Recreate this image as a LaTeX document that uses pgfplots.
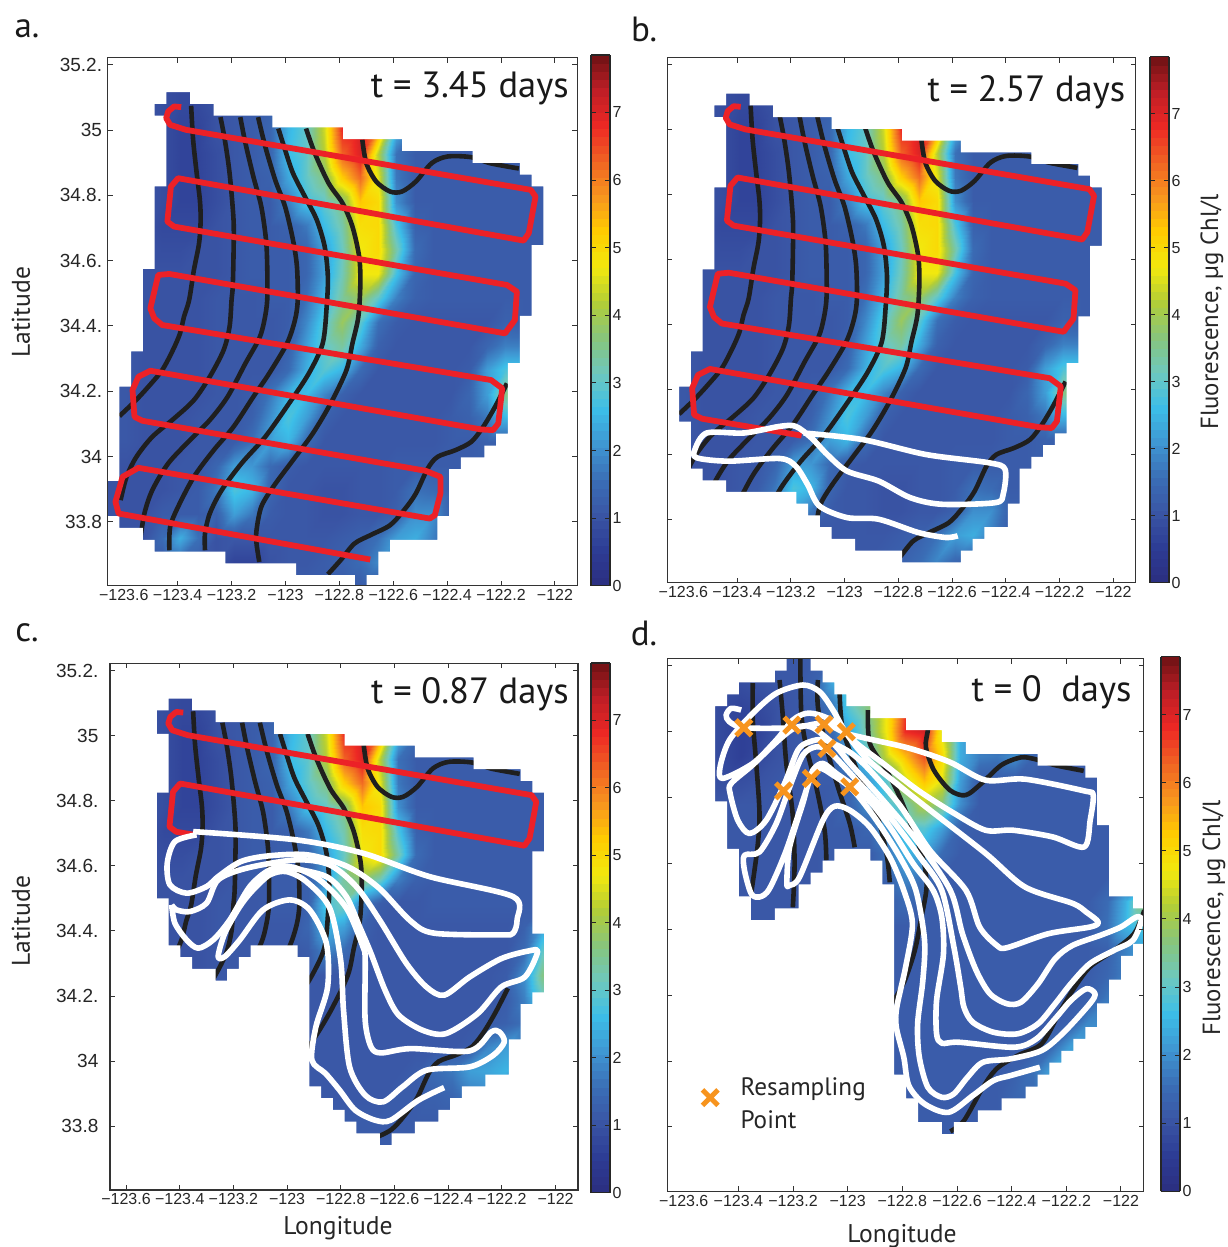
\documentclass[border=0pt]{standalone}
\usepackage{fontspec}
\usepackage{pgfplots}
\usepackage{pgfplotstable}
\pgfplotsset{compat=1.18}
\setmainfont{Liberation Sans}
\newfontfamily\myr{PT Sans}
\tikzset{ttl/.style={anchor=east,inner sep=0pt,font=\myr\fontsize{36.5}{36.5}\selectfont,text=black!90}}

\pgfplotsset{
  colormap={fluo}{rgb255=(43,46,128) rgb255=(45,60,148) rgb255=(58,85,165) rgb255=(58,110,182) rgb255=(63,150,210) rgb255=(60,190,232) rgb255=(110,200,190) rgb255=(135,197,125) rgb255=(178,205,55) rgb255=(242,232,14) rgb255=(255,205,0) rgb255=(248,150,30) rgb255=(240,100,35) rgb255=(237,40,36) rgb255=(190,30,38) rgb255=(110,18,20)},
  /pgfplots/table/za/.style={x expr={-123.4+(\thisrow{X}-449)/680},y expr={35-(\thisrow{Y}-391)/978}},
  /pgfplots/table/rc/.style={x expr={-123.4+(\thisrow{X}-179.8)/269},y expr={35-(\thisrow{Y}-735.7)/325.5}},
  /pgfplots/table/rd/.style={x expr={-123.4+(\thisrow{X}-738.9)/272.7},y expr={35-(\thisrow{Y}-731.7)/328.7}},
  /pgfplots/table/mask/.style={x expr={-123.66+0.0437*\thisrow{i}},y expr={#1-0.0361*\thisrow{j}}},
  /pgfplots/table/cellgrid/.style={meta=v,x expr={-123.66+0.067*mod(\coordindex,27)},y expr={35.222-0.0736*floor((\coordindex+0.5)/27)}},
  field/.style={surf,shader=interp,mesh/cols=27,mesh/ordering=x varies,point meta=explicit,forget plot},
  whitemask/.style={fill=white,draw=none,even odd rule,no markers,forget plot},
  blk/.style={smooth,tension=0.5,draw=black!88,line width=4.6pt,no markers,forget plot},
  redl/.style={color={rgb,255:red,236;green,33;blue,39},line width=5.8pt,line join=round,no markers,forget plot},
  whl/.style={smooth,tension=0.5,draw=white,line width=5.6pt,line join=round,no markers,forget plot},
  panel/.style={scale only axis,xmin=-123.66,xmax=-121.917,ymin=33.604,ymax=35.222,axis on top,
    tick align=inside,major tick length=5pt,axis line style={draw=black!80,line width=1.2pt},
    every tick/.style={draw=black!80,line width=0.9pt},
    point meta min=0,point meta max=7.85,colormap name=fluo,
    xticklabel style={font=\fontsize{16}{16}\selectfont,text=black!85},
    yticklabel style={font=\fontsize{19}{19}\selectfont,text=black!85,xshift=-2pt},
    scaled ticks=false,
    ytick={33.8,34,34.2,34.4,34.6,34.8,35,35.2}},
  xa/.style={xtick={-123.4,-123.2,-123,-122.8,-122.6,-122.4,-122.2,-122},
    xticklabels={−123.4,−123.2,−123,−122.8,−122.6,−122.4,−122.2,−122},
    extra x ticks={-123.6},extra x tick labels={−123.6},
    extra tick style={major tick length=0pt}},
  cbar/.style n args={3}{colorbar,colorbar sampled,colorbar style={samples=66,at={(#1,#2)},anchor=south west,scale only axis,width=19pt,height=#3,
     ytick={0,1,2,3,4,5,6,7},yticklabels={0,1,2,3,4,5,6,7},yticklabel pos=right,ytick pos=both,tick align=inside,major tick length=5pt,
     axis line style={draw=black!85,line width=1.2pt},every tick/.style={draw=black!85,line width=0.8pt},
     yticklabel style={font=\fontsize{16}{16}\selectfont,text=black!85,xshift=-1pt}}},
}

\pgfplotstableread[row sep=crcr]{v\\
1\\1\\1\\.9\\.8\\.8\\1\\1.1\\1.2\\ 1.3\\2.4\\3\\4.3\\6.8\\7\\5.5\\2.5\\1.4\\ 1.2\\1.2\\1.2\\1.2\\1.2\\1.2\\1.2\\1.2\\1.2\\
1\\1\\1\\.9\\.8\\.8\\1\\1.1\\1.2\\ 1.3\\2.4\\3\\4.3\\6.8\\7\\5.5\\2.5\\1.4\\ 1.2\\1.2\\1.2\\1.2\\1.2\\1.2\\1.2\\1.2\\1.2\\
1\\1\\1\\.9\\.8\\.8\\1\\1.1\\1.2\\ 1.3\\2.4\\3\\4.3\\6.8\\7\\5.5\\2.5\\1.4\\ 1.2\\1.2\\1.2\\1.2\\1.2\\1.2\\1.2\\1.2\\1.2\\
1\\1\\1\\.9\\.7\\.7\\1\\1.1\\1.2\\ 1.4\\2.5\\3\\4.4\\6.8\\7.1\\5.8\\2.5\\1.5\\ 1.3\\1.2\\1.2\\1.2\\1.2\\1.2\\1.2\\1.2\\1.2\\
1\\1\\1\\.9\\.7\\.7\\.9\\1.1\\1.2\\ 1.4\\2.6\\3\\4.2\\6.3\\7\\4.2\\1.6\\1.2\\ 1.2\\1.2\\1.2\\1.2\\1.2\\1.2\\1.2\\1.2\\1.2\\
1\\1\\1\\.9\\.7\\.7\\.9\\1.1\\1.2\\ 1.3\\2.3\\3\\3.6\\5.2\\6.2\\4.6\\1.7\\1.2\\ 1.2\\1.2\\1.2\\1.2\\1.2\\1.2\\1.2\\1.2\\1.2\\
1\\1\\1\\.9\\.7\\.7\\.9\\1.1\\1.2\\ 1.2\\1.8\\2.7\\3\\3.6\\5.3\\5\\2\\1.2\\ 1.2\\1.2\\1.2\\1.2\\1.2\\1.2\\1.2\\1.2\\1.2\\
1\\1\\1\\.8\\.8\\.8\\1\\1.1\\1.2\\ 1.2\\1.3\\1.7\\2.6\\3.3\\4.9\\5\\2.8\\1.3\\ 1.2\\1.2\\1.2\\1.2\\1.2\\1.2\\1.2\\1.2\\1.2\\
1\\1\\1\\.9\\.9\\1\\1\\1.1\\1.2\\ 1.2\\1.2\\1.4\\2.2\\3.1\\4.7\\5\\3.3\\1.5\\ 1.2\\1.2\\1.2\\1.2\\1.2\\1.2\\1.2\\1.2\\1.2\\
1.1\\1.1\\1\\1\\1\\1\\1\\1.1\\1.2\\ 1.2\\1.2\\1.4\\2.2\\3.2\\4.7\\4.7\\2.7\\1.4\\ 1.2\\1.2\\1.2\\1.2\\1.2\\1.2\\1.2\\1.2\\1.2\\
1.1\\1.1\\1\\1\\1\\1\\1.1\\1.1\\1.1\\ 1.2\\1.2\\1.6\\2.5\\3.4\\3.9\\3\\1.8\\1.3\\ 1.2\\1.2\\1.2\\1.2\\1.2\\1.2\\1.2\\1.2\\1.2\\
1.1\\1.1\\1\\1\\1\\1\\1.1\\1.1\\1.1\\ 1.1\\1.2\\1.9\\2.9\\3.9\\3\\1.6\\1.2\\1.1\\ 1.1\\1.1\\1.1\\1.1\\1.3\\1.2\\1.2\\1.2\\1.2\\
1.1\\1.1\\1\\1\\1\\1\\1.1\\1.1\\1.1\\ 1.1\\1.3\\2.2\\3\\3.4\\2.4\\1.3\\1.1\\1.1\\ 1.1\\1.1\\1.1\\1.4\\1.8\\1.8\\1.2\\1.2\\1.2\\
1.1\\1.1\\1\\1\\1\\1\\1.1\\1.1\\1.1\\ 1.1\\1.5\\2.4\\2.9\\2.5\\1.5\\1.1\\1.1\\1.1\\ 1.1\\1.1\\1.2\\2.2\\2.8\\2.8\\1.2\\1.2\\1.2\\
1.1\\1.1\\1\\1\\1\\1\\1.1\\1.1\\1.2\\ 1.7\\2.5\\2.6\\1.9\\1.3\\1.1\\1.1\\1.1\\1.1\\ 1.1\\1.1\\1.4\\2.2\\3.6\\3.6\\1.2\\1.2\\1.2\\
1.1\\1.1\\1\\1\\1\\1.1\\1.1\\1.1\\1.3\\ 2\\2.8\\2.2\\1.3\\1.1\\1.1\\1.1\\1.1\\1.1\\ 1.1\\1.2\\1.3\\1.7\\2.5\\2.5\\1.2\\1.2\\1.2\\
1.1\\1.1\\1\\1\\1\\1.1\\1.1\\1.2\\1.6\\ 2.2\\2.5\\1.5\\1.1\\1.1\\1.1\\1.1\\1.1\\1.1\\ 1.1\\1.2\\1.2\\1.3\\1.3\\1.2\\1.2\\1.2\\1.2\\
1\\1\\1\\1\\1.1\\1.1\\1.4\\2.2\\2.1\\ 1.5\\1.2\\1.1\\1.1\\1.1\\1.1\\1.1\\1.2\\1.2\\ 1.2\\1.2\\1.2\\1.2\\1.2\\1.2\\1.2\\1.2\\1.2\\
1\\1\\1\\1\\1.1\\1.2\\1.7\\2.8\\2.5\\ 1.4\\1.1\\1.1\\1\\1\\1.1\\1.1\\1.2\\1.6\\ 1.5\\1.2\\1.2\\1.2\\1.2\\1.2\\1.2\\1.2\\1.2\\
1\\1\\1\\1.2\\1.2\\1.2\\1.3\\2.2\\1.7\\ 1.2\\1.1\\1.1\\1\\1\\1.1\\1.1\\1.3\\2\\ 2\\1.3\\1.2\\1.2\\1.2\\1.2\\1.2\\1.2\\1.2\\
1\\1\\1\\1.5\\2.4\\1.6\\1\\1.1\\1.1\\ 1.1\\1.1\\1.1\\1.1\\1.2\\1.3\\1.6\\2.2\\2.4\\ 1.8\\1.2\\1.2\\1.2\\1.2\\1.2\\1.2\\1.2\\1.2\\
1\\1\\1\\1.1\\1.4\\1.2\\1\\.7\\.7\\ 1\\1.1\\1.1\\1.2\\1.3\\1.5\\1.9\\1.5\\1.3\\ 1.2\\1.2\\1.2\\1.2\\1.2\\1.2\\1.2\\1.2\\1.2\\
1.2\\1.2\\1.2\\1.2\\1.2\\1.2\\1.2\\1.2\\1.2\\ 1.2\\1.2\\1.2\\1.2\\1.2\\1.2\\1.2\\1.2\\1.2\\ 1.2\\1.2\\1.2\\1.2\\1.2\\1.2\\1.2\\1.2\\1.2\\
}\fieldA

\pgfplotstableread[row sep=crcr]{v\\
1\\1\\1\\.9\\.8\\.8\\1\\1.1\\1.2\\ 1.3\\2.4\\3\\4.3\\6.8\\7\\5.5\\2.5\\1.4\\ 1.2\\1.2\\1.2\\1.2\\1.2\\1.2\\1.2\\1.2\\1.2\\
1\\1\\1\\.9\\.8\\.8\\1\\1.1\\1.2\\ 1.3\\2.4\\3\\4.3\\6.8\\7\\5.5\\2.5\\1.4\\ 1.2\\1.2\\1.2\\1.2\\1.2\\1.2\\1.2\\1.2\\1.2\\
1\\1\\1\\.9\\.8\\.8\\1\\1.1\\1.2\\ 1.3\\2.4\\3\\4.3\\6.8\\7\\5.5\\2.5\\1.4\\ 1.2\\1.2\\1.2\\1.2\\1.2\\1.2\\1.2\\1.2\\1.2\\
1\\1\\1\\.9\\.7\\.7\\1\\1.1\\1.2\\ 1.4\\2.5\\3\\4.4\\6.8\\7.1\\5.8\\2.5\\1.5\\ 1.3\\1.2\\1.2\\1.2\\1.2\\1.2\\1.2\\1.2\\1.2\\
1\\1\\1\\.9\\.7\\.7\\.9\\1.1\\1.2\\ 1.4\\2.6\\3\\4.2\\6.3\\7\\4.2\\1.6\\1.2\\ 1.2\\1.2\\1.2\\1.2\\1.2\\1.2\\1.2\\1.2\\1.2\\
1\\1\\1\\.9\\.7\\.7\\.9\\1.1\\1.2\\ 1.3\\2.3\\3\\3.6\\5.2\\6.2\\4.6\\1.7\\1.2\\ 1.2\\1.2\\1.2\\1.2\\1.2\\1.2\\1.2\\1.2\\1.2\\
1\\1\\1\\.9\\.7\\.7\\.9\\1.1\\1.2\\ 1.2\\1.8\\2.7\\3\\3.6\\5.3\\5\\2\\1.2\\ 1.2\\1.2\\1.2\\1.2\\1.2\\1.2\\1.2\\1.2\\1.2\\
1\\1\\1\\.8\\.8\\.8\\1\\1.1\\1.2\\ 1.2\\1.3\\1.7\\2.6\\3.3\\4.9\\5\\2.8\\1.3\\ 1.2\\1.2\\1.2\\1.2\\1.2\\1.2\\1.2\\1.2\\1.2\\
1\\1\\1\\.9\\.9\\1\\1\\1.1\\1.2\\ 1.2\\1.2\\1.4\\2.2\\3.1\\4.7\\5\\3.3\\1.5\\ 1.2\\1.2\\1.2\\1.2\\1.2\\1.2\\1.2\\1.2\\1.2\\
1.1\\1.1\\1\\1\\1\\1\\1\\1.1\\1.2\\ 1.2\\1.2\\1.3\\2.2\\3.4\\3.8\\3.2\\1.8\\1.3\\ 1.2\\1.2\\1.2\\1.2\\1.2\\1.2\\1.2\\1.2\\1.2\\
1.1\\1.1\\1\\1\\1\\1\\1.1\\1.1\\1.1\\ 1.2\\1.2\\1.3\\2.8\\3.2\\1.8\\1.2\\1.1\\1.1\\ 1.2\\1.2\\1.2\\1.2\\1.2\\1.2\\1.2\\1.2\\1.2\\
1.1\\1.1\\1\\1\\1\\1\\1.1\\1.1\\1.1\\ 1.1\\1.1\\1.4\\2.5\\2.2\\1.3\\1.1\\1.1\\1.1\\ 1.1\\1.1\\1.1\\1.1\\1.1\\1.3\\2.2\\2.2\\2.2\\
1.1\\1.1\\1\\1\\1\\1\\1.1\\1.1\\1.1\\ 1.1\\1.1\\1.2\\1.9\\1.5\\1.2\\1.1\\1.1\\1.1\\ 1.1\\1.1\\1.1\\1.1\\1.1\\1.5\\3\\3\\3\\
1.1\\1.1\\1\\1\\1\\1\\1.1\\1.1\\1.1\\ 1.1\\1.1\\1.1\\1.1\\1.1\\1.1\\1.1\\1.1\\1.1\\ 1.1\\1.1\\1.1\\1.1\\1.2\\2\\3.6\\3.6\\3.6\\
1.1\\1.1\\1\\1\\1\\1\\1.1\\1.1\\1.1\\ 1.1\\1.1\\1.1\\1.1\\1.1\\1.1\\1.1\\1.1\\1.1\\ 1.1\\1.1\\1.1\\1.1\\1.2\\1.8\\3\\3\\3\\
1.1\\1.1\\1\\1\\1\\1\\1.1\\1.1\\1.1\\ 1.1\\1.1\\1.1\\1.1\\1.1\\1.1\\1.1\\1.1\\1.1\\ 1.1\\1.1\\1.1\\1.2\\1.3\\1.6\\1.6\\1.6\\1.6\\
1.1\\1.1\\1\\1\\1\\1\\1.1\\1.1\\1.1\\ 1.1\\1.1\\1.1\\1.1\\1.1\\1.1\\1.1\\1.1\\1.1\\ 1.1\\1.1\\1.2\\1.9\\2.2\\1.7\\1.2\\1.2\\1.2\\
1.1\\1.1\\1\\1\\1\\1\\1.1\\1.1\\1.1\\ 1.1\\1.1\\1.1\\1.1\\1.1\\1.1\\1.1\\1.1\\1.2\\ 1.5\\1.7\\2.2\\2.3\\2.5\\1.7\\1.2\\1.2\\1.2\\
1.1\\1.1\\1\\1\\1\\1\\1.1\\1.1\\1.1\\ 1.1\\1.1\\1.1\\1.1\\1.1\\1.1\\1.1\\1.2\\1.2\\ 1.3\\1.4\\1.8\\1.9\\1.5\\1.2\\1.2\\1.2\\1.2\\
1.2\\1.2\\1.2\\1.2\\1.2\\1.2\\1.2\\1.2\\1.2\\ 1.2\\1.2\\1.2\\1.2\\1.2\\1.2\\1.2\\1.2\\1.2\\ 1.2\\1.2\\1.2\\1.2\\1.2\\1.2\\1.2\\1.2\\1.2\\
1.2\\1.2\\1.2\\1.2\\1.2\\1.2\\1.2\\1.2\\1.2\\ 1.2\\1.2\\1.2\\1.2\\1.2\\1.2\\1.2\\1.2\\1.2\\ 1.2\\1.2\\1.2\\1.2\\1.2\\1.2\\1.2\\1.2\\1.2\\
1.2\\1.2\\1.2\\1.2\\1.2\\1.2\\1.2\\1.2\\1.2\\ 1.2\\1.2\\1.2\\1.2\\1.2\\1.2\\1.2\\1.2\\1.2\\ 1.2\\1.2\\1.2\\1.2\\1.2\\1.2\\1.2\\1.2\\1.2\\
1.2\\1.2\\1.2\\1.2\\1.2\\1.2\\1.2\\1.2\\1.2\\ 1.2\\1.2\\1.2\\1.2\\1.2\\1.2\\1.2\\1.2\\1.2\\ 1.2\\1.2\\1.2\\1.2\\1.2\\1.2\\1.2\\1.2\\1.2\\
}\fieldC

\pgfplotstableread[row sep=crcr]{v\\
1\\1\\1\\1\\1\\1\\1.1\\1.1\\1.2\\ 1.4\\2\\3\\4\\5.5\\7\\6\\3\\1.5\\ 1.2\\1.2\\1.2\\1.2\\1.2\\1.2\\1.2\\1.2\\1.2\\
1\\1\\1\\.9\\.9\\1\\1.1\\1.1\\1.3\\ 2.3\\3.2\\3.6\\4.6\\6.5\\7\\5\\2.5\\1.5\\ 1.2\\1.2\\1.2\\1.2\\1.2\\1.2\\1.2\\1.2\\1.2\\
1\\1\\1\\.8\\.7\\.8\\1\\1.1\\1.2\\ 1.7\\3\\3.7\\4.8\\6.6\\7\\5\\2.5\\1.6\\ 1.2\\1.2\\1.2\\1.2\\1.2\\1.2\\1.2\\1.2\\1.2\\
1\\1\\1\\.8\\.6\\.7\\1\\1.1\\1.2\\ 1.5\\2.4\\3.5\\4.8\\6.8\\7.1\\4.5\\2.4\\1.7\\ 1.4\\1.2\\1.2\\1.2\\1.2\\1.2\\1.2\\1.2\\1.2\\
1\\1\\1\\.8\\.6\\.8\\1\\1.1\\1.2\\ 1.3\\2.1\\3\\4.4\\5.4\\6.5\\5\\2.4\\1.8\\ 1.7\\2\\1.4\\1.2\\1.2\\1.2\\1.2\\1.2\\1.2\\
1\\1\\1\\.9\\.9\\1\\1.1\\1.1\\1.2\\ 1.2\\1.4\\2.2\\3\\4.4\\5.4\\4.6\\2.2\\1.2\\ 1.2\\1.2\\1.2\\1.2\\1.2\\1.2\\1.2\\1.2\\1.2\\
1.1\\1.1\\1.1\\1.1\\1.1\\1.1\\1.1\\1.1\\1.1\\ 1.2\\1.4\\2\\2.8\\3.3\\4.2\\3.6\\2\\1.2\\ 1.2\\1.2\\1.2\\1.2\\1.2\\1.2\\1.2\\1.2\\1.2\\
1.1\\1.1\\1.1\\1.1\\1.1\\1.1\\1.1\\1.1\\1.1\\ 1.2\\1.2\\1.4\\2.1\\2.8\\2.9\\2.2\\1.3\\1.2\\ 1.2\\1.2\\1.2\\1.2\\1.2\\1.2\\1.2\\1.2\\1.2\\
1.1\\1.1\\1.1\\1.1\\1.1\\1.1\\1.1\\1.1\\1.1\\ 1.2\\1.2\\1.2\\1.6\\2.5\\2.3\\1.5\\1.2\\1.2\\ 1.2\\1.2\\1.2\\1.2\\1.2\\1.2\\1.2\\1.2\\1.2\\
1.1\\1.1\\1.1\\1.1\\1.1\\1.1\\1.1\\1.1\\1.1\\ 1.2\\1.2\\1.2\\1.3\\1.9\\1.6\\1.2\\1.2\\1.2\\ 1.2\\1.2\\1.2\\1.2\\1.2\\1.2\\1.2\\1.2\\1.2\\
1.1\\1.1\\1.1\\1.1\\1.1\\1.1\\1.1\\1.1\\1.1\\ 1.2\\1.2\\1.2\\1.2\\1.5\\1.3\\1.2\\1.2\\1.2\\ 1.2\\1.2\\1.2\\1.2\\1.2\\1.2\\1.5\\2.4\\3.8\\
1.1\\1.1\\1.1\\1.1\\1.1\\1.1\\1.1\\1.1\\1.1\\ 1.2\\1.2\\1.2\\1.2\\1.2\\1.2\\1.2\\1.2\\1.2\\ 1.2\\1.2\\1.2\\1.2\\1.2\\1.2\\1.6\\2.5\\2.9\\
1.1\\1.1\\1.1\\1.1\\1.1\\1.1\\1.1\\1.1\\1.1\\ 1.2\\1.2\\1.2\\1.2\\1.2\\1.2\\1.2\\1.2\\1.2\\ 1.2\\1.2\\1.2\\1.2\\1.2\\1.2\\1.3\\1.8\\2.3\\
1.1\\1.1\\1.1\\1.1\\1.1\\1.1\\1.1\\1.1\\1.1\\ 1.2\\1.2\\1.2\\1.2\\1.2\\1.2\\1.2\\1.2\\1.2\\ 1.2\\1.2\\1.2\\1.2\\1.2\\1.2\\1.4\\1.8\\1.8\\
1.1\\1.1\\1.1\\1.1\\1.1\\1.1\\1.1\\1.1\\1.1\\ 1.2\\1.2\\1.2\\1.2\\1.2\\1.2\\1.2\\1.2\\1.2\\ 1.2\\1.2\\1.2\\1.2\\1.2\\1.3\\1.7\\1.7\\1.7\\
1.1\\1.1\\1.1\\1.1\\1.1\\1.1\\1.1\\1.1\\1.1\\ 1.2\\1.2\\1.2\\1.2\\1.2\\1.2\\1.2\\1.2\\1.2\\ 1.2\\1.2\\1.2\\1.2\\1.3\\1.9\\2\\1.7\\1.7\\
1.1\\1.1\\1.1\\1.1\\1.1\\1.1\\1.1\\1.1\\1.1\\ 1.2\\1.2\\1.2\\1.2\\1.2\\1.2\\1.2\\1.2\\1.2\\ 1.2\\1.2\\1.2\\1.5\\2.2\\2.2\\1.7\\1.7\\1.7\\
1.1\\1.1\\1.1\\1.1\\1.1\\1.1\\1.1\\1.1\\1.1\\ 1.2\\1.2\\1.2\\1.2\\1.2\\1.2\\1.2\\1.2\\1.2\\ 1.2\\1.3\\1.6\\2.3\\2.2\\1.7\\1.7\\1.7\\1.7\\
1.1\\1.1\\1.1\\1.1\\1.1\\1.1\\1.1\\1.1\\1.1\\ 1.2\\1.2\\1.2\\1.2\\1.2\\1.2\\1.2\\1.2\\1.2\\ 1.2\\1.4\\1.5\\1.5\\1.4\\1.3\\1.3\\1.3\\1.3\\
1.2\\1.2\\1.2\\1.2\\1.2\\1.2\\1.2\\1.2\\1.2\\ 1.2\\1.2\\1.2\\1.2\\1.2\\1.2\\1.2\\1.2\\1.2\\ 1.2\\1.2\\1.2\\1.2\\1.2\\1.2\\1.2\\1.2\\1.2\\
1.2\\1.2\\1.2\\1.2\\1.2\\1.2\\1.2\\1.2\\1.2\\ 1.2\\1.2\\1.2\\1.2\\1.2\\1.2\\1.2\\1.2\\1.2\\ 1.2\\1.2\\1.2\\1.2\\1.2\\1.2\\1.2\\1.2\\1.2\\
1.2\\1.2\\1.2\\1.2\\1.2\\1.2\\1.2\\1.2\\1.2\\ 1.2\\1.2\\1.2\\1.2\\1.2\\1.2\\1.2\\1.2\\1.2\\ 1.2\\1.2\\1.2\\1.2\\1.2\\1.2\\1.2\\1.2\\1.2\\
1.2\\1.2\\1.2\\1.2\\1.2\\1.2\\1.2\\1.2\\1.2\\ 1.2\\1.2\\1.2\\1.2\\1.2\\1.2\\1.2\\1.2\\1.2\\ 1.2\\1.2\\1.2\\1.2\\1.2\\1.2\\1.2\\1.2\\1.2\\
}\fieldD

\pgfplotstablecreatecol[expr={0}]{d}{\fieldA}
\pgfplotstablecreatecol[expr={0}]{d}{\fieldC}
\pgfplotstablecreatecol[expr={0}]{d}{\fieldD}

\pgfplotstableread[row sep=crcr]{i j\\
-3 -10\\5 -10\\5 0\\7 0\\7 1\\9 1\\9 2\\14 2\\14 3\\20 3\\20 4\\25 4\\25 5\\31 5\\31 6\\35 6\\35 7\\36 7\\36 8\\37 8\\37 13\\36 13\\36 19\\35 19\\35 23\\34 23\\34 29\\33 29\\33 30\\32 30\\32 31\\30 31\\30 32\\29 32\\29 36\\28 36\\28 38\\24 38\\24 39\\23 39\\23 41\\22 41\\22 44\\21 44\\21 41\\16 41\\16 40\\10 40\\10 39\\4 39\\4 38\\3 38\\3 37\\1 37\\1 36\\0 36\\0 33\\1 33\\1 25\\2 25\\2 22\\3 22\\3 15\\4 15\\4 8\\5 8\\5 2\\4 2\\4 1\\5 1\\5 0\\5 -10\\45 -10\\45 55\\-3 55\\
}\maskA
\pgfplotstableread[row sep=crcr]{i j\\
-3 -10\\5 -10\\5 0\\7 0\\7 1\\9 1\\9 2\\14 2\\14 3\\20 3\\20 4\\25 4\\25 5\\31 5\\31 6\\35 6\\35 7\\36 7\\36 8\\37 8\\37 13\\36 13\\36 19\\35 19\\35 23\\34 23\\34 29\\33 29\\33 30\\32 30\\32 31\\31 31\\31 32\\30 32\\30 35\\29 35\\29 37\\27 37\\27 38\\26 38\\26 39\\25 39\\25 40\\20 40\\20 39\\16 39\\16 38\\14 38\\14 37\\13 37\\13 36\\12 36\\12 35\\11 35\\11 34\\5 34\\5 33\\3 33\\3 32\\2 32\\2 28\\1 28\\1 25\\2 25\\2 22\\3 22\\3 15\\4 15\\4 8\\5 8\\5 2\\4 2\\4 1\\5 1\\5 0\\5 -10\\45 -10\\45 55\\-3 55\\
}\maskB
\pgfplotstableread[row sep=crcr]{i j\\
-3 -10\\5 -10\\5 0\\7 0\\7 1\\9 1\\9 2\\14 2\\14 3\\20 3\\20 4\\26 4\\26 5\\31 5\\31 6\\35 6\\35 7\\36 7\\36 8\\37 8\\37 13\\36 13\\36 20\\37 20\\37 25\\36 25\\36 26\\35 26\\35 29\\34 29\\34 32\\32 32\\32 33\\30 33\\30 34\\29 34\\29 35\\28 35\\28 36\\26 36\\26 37\\24 37\\24 38\\23 38\\23 37\\21 37\\21 36\\20 36\\20 35\\19 35\\19 34\\18 34\\18 33\\17 33\\17 22\\16 22\\16 21\\12 21\\12 22\\11 22\\11 23\\10 23\\10 24\\9 24\\9 23\\7 23\\7 22\\6 22\\6 21\\5 21\\5 17\\4 17\\4 8\\5 8\\5 3\\4 3\\4 1\\5 1\\5 0\\5 -10\\45 -10\\45 55\\-3 55\\
}\maskC
\pgfplotstableread[row sep=crcr]{i j\\
-3 -10\\10 -10\\10 -1\\12 -1\\12 1\\13 1\\13 2\\14 2\\14 3\\15 3\\15 4\\17 4\\17 5\\20 5\\20 6\\23 6\\23 7\\25 7\\25 8\\31 8\\31 9\\35 9\\35 10\\36 10\\36 14\\37 14\\37 20\\39 20\\39 21\\41 21\\41 24\\39 24\\39 25\\38 25\\38 27\\37 27\\37 29\\36 29\\36 31\\35 31\\35 32\\34 32\\34 33\\33 33\\33 34\\32 34\\32 35\\31 35\\31 36\\30 36\\30 37\\28 37\\28 38\\26 38\\26 39\\24 39\\24 40\\23 40\\23 39\\21 39\\21 37\\20 37\\20 35\\19 35\\19 19\\18 19\\18 17\\17 17\\17 16\\14 16\\14 17\\13 17\\13 18\\12 18\\12 19\\11 19\\11 21\\9 21\\9 22\\7 22\\7 20\\6 20\\6 16\\5 16\\5 12\\4 12\\4 4\\5 4\\5 3\\6 3\\6 2\\9 2\\9 1\\10 1\\10 -1\\10 -10\\45 -10\\45 55\\-3 55\\
}\maskD

% black streamlines (panels a, b, c)
\pgfplotstableread[row sep=crcr]{X Y\\483 318\\488 420\\497 520\\505 600\\507 660\\503 730\\490 810\\478 900\\465 950\\455 1000\\437 1050\\410 1110\\375 1160\\340 1205\\302 1248\\}\bA
\pgfplotstableread[row sep=crcr]{X Y\\557 352\\568 420\\580 520\\590 660\\590 760\\588 860\\585 900\\580 980\\565 1050\\530 1130\\490 1200\\440 1255\\385 1310\\345 1370\\320 1430\\305 1500\\}\bB
\pgfplotstableread[row sep=crcr]{X Y\\607 352\\620 430\\640 530\\660 620\\672 720\\675 800\\675 900\\668 960\\655 1015\\620 1090\\575 1190\\530 1260\\480 1320\\425 1390\\385 1470\\365 1540\\355 1615\\}\bC
\pgfplotstableread[row sep=crcr]{X Y\\652 352\\670 440\\695 540\\720 620\\740 720\\750 800\\752 900\\745 960\\725 1030\\680 1120\\640 1190\\590 1280\\540 1350\\490 1430\\450 1520\\430 1580\\428 1650\\}\bD
\pgfplotstableread[row sep=crcr]{X Y\\703 386\\720 450\\740 520\\770 590\\800 660\\820 740\\828 830\\825 920\\815 1030\\780 1120\\730 1210\\670 1310\\610 1390\\560 1470\\530 1540\\518 1600\\518 1650\\}\bE
\pgfplotstableread[row sep=crcr]{X Y\\773 386\\795 460\\830 550\\865 610\\890 680\\907 770\\910 850\\905 950\\890 1030\\875 1110\\835 1210\\790 1300\\740 1380\\690 1460\\660 1520\\648 1590\\648 1630\\655 1685\\}\bF
\pgfplotstableread[row sep=crcr]{X Y\\915 420\\925 490\\950 545\\985 575\\1015 575\\1050 545\\1090 490\\1130 470\\1190 472\\1237 490\\1310 506\\}\bG
\pgfplotstableread[row sep=crcr]{X Y\\1280 1150\\1250 1220\\1220 1280\\1190 1325\\1150 1350\\1105 1370\\1080 1405\\1050 1480\\1020 1530\\985 1575\\935 1605\\895 1630\\860 1680\\828 1722\\}\bH

% red track
\pgfplotstableread[row sep=crcr]{X Y\\458 322\\440 320\\425 335\\420 355\\430 375\\470 390\\1340 570\\1352 590\\1335 700\\1322 722\\450 535\\432 560\\423 665\\440 680\\1280 855\\1305 875\\1300 960\\1275 1000\\428 822\\400 825\\380 925\\390 955\\410 975\\1240 1140\\1268 1165\\1258 1270\\1245 1290\\1215 1288\\380 1112\\350 1130\\335 1170\\340 1250\\360 1262\\1075 1412\\1112 1430\\1112 1480\\1098 1545\\1085 1555\\350 1403\\310 1430\\292 1505\\300 1540\\935 1678\\}\redA
\pgfplotstableread[row sep=crcr]{X Y\\458 322\\440 320\\425 335\\420 355\\430 375\\470 390\\1340 570\\1352 590\\1335 700\\1322 722\\450 535\\432 560\\423 665\\440 680\\1280 855\\1305 875\\1300 960\\1275 1000\\428 822\\400 825\\380 925\\390 955\\410 975\\1240 1140\\1268 1165\\1258 1270\\1245 1290\\1215 1288\\380 1112\\350 1130\\335 1170\\340 1250\\360 1262\\612 1313\\}\redB
\pgfplotstableread[row sep=crcr]{X Y\\458 322\\440 320\\425 335\\420 355\\430 375\\470 390\\1340 570\\1352 590\\1335 700\\1322 722\\450 535\\432 560\\423 665\\440 680\\490 690\\}\redC

% white tracks
\pgfplotstableread[row sep=crcr]{X Y\\617 1305\\767 1325\\927 1370\\1087 1395\\1127 1415\\1122 1490\\1102 1515\\967 1520\\887 1500\\807 1450\\727 1420\\677 1370\\637 1320\\597 1285\\557 1285\\467 1305\\372 1305\\342 1355\\347 1380\\427 1390\\557 1382\\597 1405\\627 1460\\657 1525\\727 1560\\807 1565\\907 1605\\977 1620\\1007 1615\\}\whB
\pgfplotstableread[row sep=crcr]{X Y\\193.3 831.7\\296.7 840\\363.3 853.3\\430 876.7\\513.8 896.7\\517.8 920\\513.8 933.3\\502 935\\434.8 933.3\\411 921\\379.3 888\\348 866.7\\308.3 855\\268.7 856\\241 861.7\\218.3 876.7\\206.7 886.7\\186.7 893.3\\170 885\\167.3 863.3\\175 841.7\\196.7 835\\}\whCa
\pgfplotstableread[row sep=crcr]{X Y\\171.7 905\\176.7 910\\190 911.7\\206.7 903.3\\218.3 880\\246.7 868.3\\296.7 860\\330 865\\356.7 886.7\\380 920\\406.7 963.3\\426.9 987\\444.7 995.3\\470.4 977\\502 958.7\\529.6 951\\538.3 952\\525.7 977\\502 987\\478.3 1013.7\\446.6 1033.7\\423 1030.3\\399 1015\\385.4 990\\371.5 953.7\\360 926.7\\346.7 896.7\\326.7 876.7\\290 868.3\\270 870\\250 886.7\\230 920\\213.3 940\\198.3 948.3\\186.7 940\\175 923.3\\171.7 905\\}\whCb
\pgfplotstableread[row sep=crcr]{X Y\\250 886.7\\273.3 869.3\\293.3 867.3\\320 880\\346.7 908\\363.3 946.7\\365.6 960\\365.6 1020.3\\371.5 1047\\381.4 1053\\411 1048.7\\470.4 1051\\492 1032\\500 1032\\505 1042\\494 1055.3\\470.4 1067\\427 1070.3\\403 1087\\383.4 1102\\365.6 1095.3\\350 1067\\343.9 1010\\341 960\\330 908\\306.7 881.7\\286.7 871.7\\270 875\\253.3 890\\240 906.7\\225 933.3\\218.3 956.7\\225 956.7\\240 940\\263.3 910\\290 900\\310 910\\326.7 943.3\\328 987\\316.2 1027\\312.2 1060.3\\326 1073.7\\340 1090.3\\355.7 1110.3\\375.5 1120.3\\391.3 1120.3\\419 1100.3\\444.7 1087.7\\}\whCc
\pgfplotstableread[row sep=crcr]{X Y\\741.7 710\\731.7 708.3\\726.7 715\\730 721.7\\745 727.7\\793.3 727.7\\823.3 723.3\\846.7 733.3\\866.7 738.3\\910 748.3\\950 762\\985.5 780\\1025 779\\1084 790.7\\1093 795\\1090 820\\1084 846.7\\1052.7 836.7\\1013 830\\985.5 830\\954 813\\918 790\\883 763\\856.7 743\\836.7 723\\820 715\\806.7 713.3\\793.3 720\\776.7 740\\753.3 763.3\\723.3 778.3\\720.7 766.7\\730 740\\753.3 713.3\\776.7 693.3\\803.3 685\\820 691.7\\833.3 710\\846.7 733.3\\866.7 758.3\\896.7 783.3\\926 806.7\\985.5 853\\1025 886.7\\1072.4 903\\1086 911.7\\1098 921.7\\1089.6 926.7\\1048.4 933.3\\1007 947.3\\996.8 945\\979.7 926.7\\966 890\\930 850\\900 805\\870 770\\850 752\\825 740\\810 741.7\\798.3 750\\785 783.3\\766.7 820\\750 833.3\\738.3 820\\730.7 793.3\\731.7 783.3\\753 765\\777 742\\795 728\\812 727\\835 745\\850 763\\883.3 800\\916.7 840\\950.4 890\\962.5 933.3\\976.2 970\\990 993.3\\1007 1003.3\\1021 1001.7\\1038 983.3\\1055 958.3\\1072.4 945\\1100 935\\1120.5 926.7\\1136 916.7\\1141 920\\1132.6 940\\1113.7 950\\1089.6 963.3\\1070.7 983.3\\1055 1003.3\\1038 1023.3\\1017.5 1033.3\\993.4 1031.7\\972.8 1021.7\\964 1006.7\\960.8 986.7\\954 946.7\\941.9 890\\920 856.7\\890 816.7\\856.7 780\\830 751.7\\816.7 746.7\\803.3 755\\790 787\\776.7 823.3\\760 851.7\\745 855\\745 870\\751.7 893.3\\760 896.7\\770 888.3\\786.7 850\\806.7 790\\813.3 770\\823.3 763.3\\836.7 773.3\\863.3 793.3\\890 826.7\\913.3 863.3\\933.3 890\\941.9 916.7\\943.6 953.3\\936.7 1000\\936.7 1033.3\\941.9 1042.7\\959 1041.7\\1014 1046.7\\1036.4 1038.3\\1055 1018.3\\1070.7 1000\\1086.2 988.3\\1094.8 993.3\\1089.6 1003.3\\1063.8 1031.7\\1041.5 1050\\1010.6 1058.3\\983 1061.7\\967.6 1076.7\\953.9 1093.3\\941.9 1096.7\\928 1086.7\\919.5 1056.7\\917.8 1023.3\\923 980\\924.7 940\\916 890\\900 856.7\\876.7 820\\853.3 790\\833.3 775\\820 768.3\\810 780\\803.3 803\\790 847\\787.3 883\\790 885\\800 876.7\\823.3 820\\835 806\\850 810\\870 826.7\\890 856.7\\904 890\\912.6 923.3\\905.8 966.7\\897 1006.7\\896.5 1026.7\\904 1056.7\\909 1085\\924.7 1103.3\\948.7 1111.7\\972.8 1095\\993.4 1080\\1010.6 1075\\1039.8 1066.7\\}\whD

% black lines of panel d
\pgfplotstableread[row sep=crcr]{X Y\\753.3 683\\753.3 720\\756.7 763\\760 813\\758 847\\751.7 893\\}\dA
\pgfplotstableread[row sep=crcr]{X Y\\780 680\\783 713\\786.7 763\\793 813\\795 863\\793.3 907\\}\dB
\pgfplotstableread[row sep=crcr]{X Y\\800.7 655\\801.7 713\\806.7 747\\816.7 787\\825 830\\826.7 860\\}\dC
\pgfplotstableread[row sep=crcr]{X Y\\818.3 680\\818.3 707\\826.7 747\\838.3 787\\850 823\\855 847\\}\dD
\pgfplotstableread[row sep=crcr]{X Y\\840 694\\843.3 730\\860 777\\876.7 813\\886.7 853\\890 882\\}\dE
\pgfplotstableread[row sep=crcr]{X Y\\868.3 710\\870 743\\886.7 770\\900 797\\916 837\\923.7 860\\926.7 887\\921 920\\915 950\\905 980\\893 1002\\}\dF
\pgfplotstableread[row sep=crcr]{X Y\\928 718\\928 730\\926 746.7\\934 770\\950 790\\965.7 795\\981.5 783.3\\1001.3 765\\1021 757.3\\1036 759.3\\1054.7 765\\1083.5 770.7\\}\dG
\pgfplotstableread[row sep=crcr]{X Y\\1144 910\\1134 933\\1113.7 950\\1089.6 966.7\\1072.4 990\\1058.7 1013.3\\1041.5 1043.3\\1017.5 1055\\996.8 1068\\983 1086.7\\964 1120\\950.4 1130.7\\}\dH
\pgfplotstableread[row sep=crcr]{X Y\\744.3 727.7\\792.3 725\\824.3 724.3\\846.7 731.7\\827.3 748.3\\784 790.7\\811.7 778.3\\850 786.7\\710.8 1097\\}\marksD

\newcommand{\blackABC}{%
  \addplot[blk] table[za]{\bA};
  \addplot[blk] table[za]{\bB};
  \addplot[blk] table[za]{\bC};
  \addplot[blk] table[za]{\bD};
  \addplot[blk] table[za]{\bE};
  \addplot[blk] table[za]{\bF};
  \addplot[blk] table[za]{\bG};
  \addplot[blk] table[za]{\bH};
}

\begin{document}
\begin{tikzpicture}[x=1pt,y=1pt]
\path[use as bounding box] (0,0) rectangle (1227,-1247);

% panel a
\begin{axis}[panel,xa,at={(107.6pt,-585.7pt)},anchor=south west,width=469.7pt,height=528pt,
  yticklabels={33.8,34,34.2.,34.4.,34.6.,34.8.,35,35.2.},
  cbar={1.0292}{0}{530.7pt}]
\addplot[field] table[cellgrid]{\fieldA};
\blackABC
\addplot[whitemask] table[mask=35.1166]{\maskA};
\addplot[redl] table[za]{\redA};
\node[ttl] at (rel axis cs:0.982,0.942) {t = 3.45 days};
\end{axis}

% panel b
\begin{axis}[panel,xa,at={(667.3pt,-582.7pt)},anchor=south west,width=468.4pt,height=525pt,
  yticklabels={},
  cbar={1.0305}{0}{526pt}]
\addplot[field] table[cellgrid]{\fieldA};
\blackABC
\addplot[whitemask] table[mask=35.111]{\maskB};
\addplot[redl] table[za]{\redB};
\addplot[whl] table[za]{\whB};
\node[ttl] at (rel axis cs:0.978,0.9345) {t = 2.57 days};
\end{axis}

% panel c
\begin{axis}[panel,at={(109.9pt,-1190pt)},anchor=south west,width=468pt,height=526.7pt,
  xtick={-123.6,-123.4,-123.2,-123,-122.8,-122.6,-122.4,-122.2,-122},
  xticklabels={−123.6,−123.4,−123.2,−123,−122.8,−122.6,−122.4,−122.2,−122},
  yticklabels={33.8,34,34.2.,34.4.,34.6.,34.8.,35,35.2.},
  yticklabel style={xshift=-6pt},
  cbar={1.028}{-0.0051}{529.7pt}]
\addplot[field] table[cellgrid]{\fieldC};
\blackABC
\addplot[whitemask] table[mask=35.1137]{\maskC};
\addplot[redl] table[za]{\redC};
\addplot[whl] table[rc]{\whCa};
\addplot[whl] table[rc]{\whCb};
\addplot[whl] table[rc]{\whCc};
\node[ttl] at (rel axis cs:0.981,0.9415) {t = 0.87 days};
\end{axis}

% panel d
\begin{axis}[panel,xa,at={(667.3pt,-1191.3pt)},anchor=south west,width=476.3pt,height=532.6pt,
  yticklabels={},
  cbar={1.0365}{0}{534.6pt}]
\addplot[field] table[cellgrid]{\fieldD};
\addplot[blk] table[rd]{\dA};
\addplot[blk] table[rd]{\dB};
\addplot[blk] table[rd]{\dC};
\addplot[blk] table[rd]{\dD};
\addplot[blk] table[rd]{\dE};
\addplot[blk] table[rd]{\dF};
\addplot[blk] table[rd]{\dG};
\addplot[blk] table[rd]{\dH};
\addplot[whitemask] table[mask=35.222]{\maskD};
\addplot[whl] table[rd]{\whD};
\addplot[only marks,mark=x,mark size=11pt,mark options={draw={rgb,255:red,247;green,148;blue,30},line width=5pt},forget plot] table[rd]{\marksD};
\node[ttl] at (rel axis cs:0.975,0.937) {t = 0 \ days};
\end{axis}

% texts
\foreach \p/\xx/\yy in {a./27/-29,b./644/-29,c./27/-633,d./644/-633}{
  \node[font=\myr\fontsize{35}{35}\selectfont,text=black!90] at (\xx,\yy) {\p};
}
\node[rotate=90,font=\myr\fontsize{25.6}{25.6}\selectfont,text=black!85] at (21,-312) {Latitude};
\node[rotate=90,font=\myr\fontsize{25.6}{25.6}\selectfont,text=black!85] at (21,-921) {Latitude};
\node[font=\myr\fontsize{25.6}{25.6}\selectfont,text=black!85] at (338,-1228) {Longitude};
\node[font=\myr\fontsize{25.6}{25.6}\selectfont,text=black!85] at (902,-1236) {Longitude};
\node[rotate=90,font=\myr\fontsize{24.8}{24.8}\selectfont,text=black!85] at (1212,-312) {Fluorescence, µg Chl/l};
\node[rotate=90,font=\myr\fontsize{24.8}{24.8}\selectfont,text=black!85] at (1214,-918) {Fluorescence, µg Chl/l};
\node[anchor=west,font=\myr\fontsize{25.2}{25.2}\selectfont,text=black!85] at (737,-1089) {Resampling};
\node[anchor=west,font=\myr\fontsize{25.2}{25.2}\selectfont,text=black!85] at (737,-1120) {Point};
\end{tikzpicture}
\end{document}
